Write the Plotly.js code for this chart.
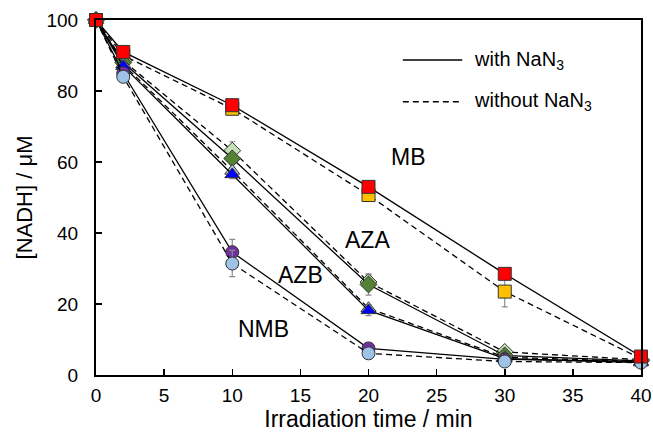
<!DOCTYPE html>
<html>
<head>
<meta charset="utf-8">
<script src="https://cdn.plot.ly/plotly-3.0.1.min.js"></script>
<style>html,body{margin:0;padding:0;background:#fff;}#chart{width:653px;height:442px;}</style>
</head>
<body>
<div id="chart"></div>
<script>
// Irradiation time (min)
const time = [0, 2, 10, 20, 30, 40];

// [NADH] / uM
const mbWith      = [100, 91, 76, 53, 28.5, 5.2];
const mbWithout   = [100, 90, 75, 50.7, 23.5, 4.6];
const azaWith     = [100, 88, 61, 25.5, 5.5, 4.0];
const azaWithout  = [100, 88.5, 63.2, 26.2, 6.5, 4.3];
const azbWith     = [100, 87, 56.5, 18.2, 4.6, 3.5];
const azbWithout  = [100, 87.5, 57.5, 18.8, 5.0, 3.8];
const nmbWith     = [100, 85, 34.6, 7.5, 4.4, 3.8];
const nmbWithout  = [100, 84, 31.4, 6.1, 3.8, 3.5];

// error bars
const mbWithErr     = [0, 0.8, 1.0, 1.0, 1.0, 0.5];
const mbWithoutErr  = [0, 0.8, 1.0, 1.2, 4.3, 0.5];
const azaWithErr    = [0, 0.8, 1.5, 3.0, 0.8, 0.5];
const azaWithoutErr = [0, 0.8, 2.5, 2.0, 0.8, 0.5];
const azbWithErr    = [0, 0.8, 1.2, 1.5, 0.5, 0.5];
const azbWithoutErr = [0, 0.8, 1.0, 1.0, 0.5, 0.5];
const nmbWithErr    = [0, 0.8, 3.6, 0.8, 0.5, 0.5];
const nmbWithoutErr = [0, 0.8, 3.7, 0.8, 0.5, 0.5];

const labels = ["MB", "AZA", "AZB", "NMB"];
const labelX = [22.9, 19.9, 15.0, 12.3];
const labelY = [61.5, 38.0, 28.3, 13.0];

const legendNames = ["with NaN<sub>3</sub>", "without NaN<sub>3</sub>"];
const legendDash = ["solid", "6px,4px"];

const DASH = "6px,4px";

function series(y, err, dash, symbol, color, size) {
  return {
    x: time, y: y, type: "scatter", mode: "lines+markers", showlegend: false,
    cliponaxis: false,
    line: {color: "#000", width: 1.3, dash: dash},
    marker: {symbol: symbol, color: color, size: size, line: {color: "#333", width: 1}},
    error_y: {type: "data", array: err, visible: true, color: "#8c8c8c", thickness: 1.2, width: 3},
    hoverinfo: "x+y"
  };
}

const traces = [
  series(mbWithout, mbWithoutErr, DASH, "square", "#ffc000", 13),
  series(azaWithout, azaWithoutErr, DASH, "diamond", "#c5e0b4", 13),
  series(azaWith, azaWithErr, "solid", "diamond", "#548235", 13),
  series(azbWithout, azbWithoutErr, DASH, "triangle-up", "#b4c7e7", 13),
  series(azbWith, azbWithErr, "solid", "triangle-up", "#0000ff", 13),
  series(nmbWith, nmbWithErr, "solid", "circle", "#7030a0", 13),
  series(nmbWithout, nmbWithoutErr, DASH, "circle", "#9dc3e6", 13),
  series(mbWith, mbWithErr, "solid", "square", "#ff0000", 13)
];

const font = "Liberation Sans, Arial, sans-serif";

// legend built from layout items (paper coordinates)
const legX0 = 0.563, legX1 = 0.672, legTextX = 0.69;
const legY = [0.887, 0.77];

const shapes = legendNames.map((n, i) => ({
  type: "line", xref: "paper", yref: "paper",
  x0: legX0, x1: legX1, y0: legY[i], y1: legY[i],
  line: {color: "#000", width: 1.5, dash: legendDash[i]}
}));

const annotations = labels.map((t, i) => ({
  x: labelX[i], y: labelY[i], xref: "x", yref: "y", text: t, showarrow: false,
  font: {size: 23, family: font}
})).concat(legendNames.map((n, i) => ({
  x: legTextX, y: legY[i], xref: "paper", yref: "paper", text: n, showarrow: false,
  xanchor: "left", yanchor: "middle", font: {size: 20, family: font}
})));

const layout = {
  width: 653, height: 442,
  margin: {l: 96, r: 12, t: 20, b: 67},
  paper_bgcolor: "#fff", plot_bgcolor: "#fff",
  font: {family: font, size: 18, color: "#000"},
  showlegend: false,
  xaxis: {
    range: [0, 40], dtick: 5, tick0: 0, ticks: "inside", ticklen: 6, tickwidth: 1.5,
    tickcolor: "#000", showline: true, linecolor: "#000", linewidth: 2, mirror: true,
    showgrid: false, zeroline: false, tickfont: {size: 19}, ticklabelstandoff: 2,
    title: {text: "Irradiation time / min", font: {size: 23}, standoff: 6}
  },
  yaxis: {
    range: [0, 100], dtick: 20, tick0: 0, ticks: "inside", ticklen: 6, tickwidth: 1.5,
    tickcolor: "#000", showline: true, linecolor: "#000", linewidth: 2, mirror: true,
    showgrid: false, zeroline: false, tickfont: {size: 19}, ticklabelstandoff: 12,
    title: {text: "[NADH] / μM", font: {size: 22}, standoff: 8}
  },
  shapes: shapes,
  annotations: annotations
};

Plotly.newPlot("chart", traces, layout, {displayModeBar: false, staticPlot: true});
</script>
</body>
</html>
